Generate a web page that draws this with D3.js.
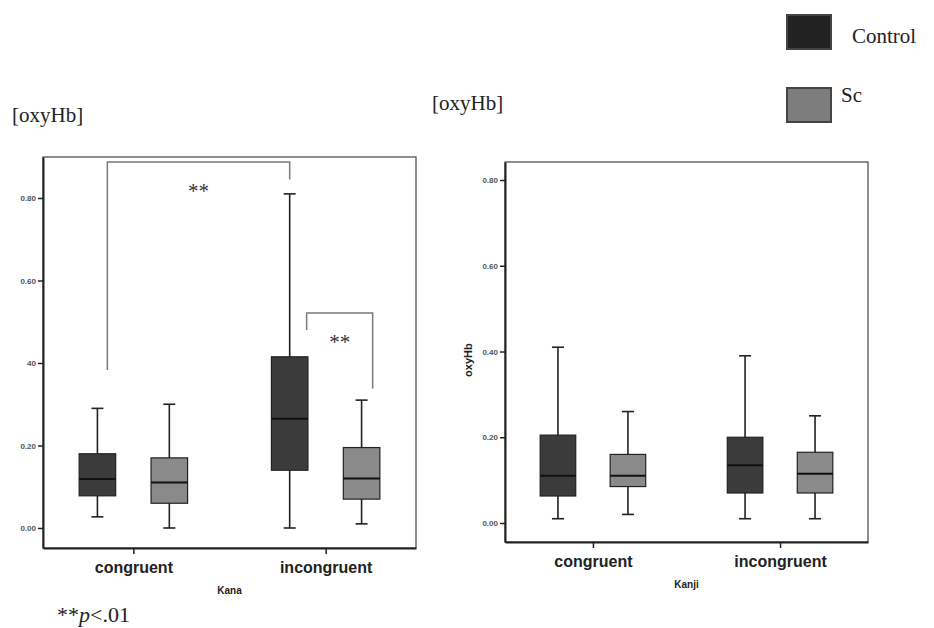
<!DOCTYPE html>
<html>
<head>
<meta charset="utf-8">
<script src="https://cdn.jsdelivr.net/npm/d3@7"></script>
<style>
  body { margin: 0; background: #fff; }
  svg { display: block; }
</style>
</head>
<body>
<div id="chart"></div>
<script>
(function () {
  // ================================================
  // 1. DATA
  // ================================================
  const conditions = ["congruent", "incongruent"];
  const groups = ["Control", "Sc"];
  const yTicks = [0, 0.2, 0.4, 0.6, 0.8];
  const kanaTickLabels = ["0.00", "0.20", "40", "0.60", "0.80"];
  const kanjiTickLabels = ["0.00", "0.20", "0.40", "0.60", "0.80"];

  // [whiskerLow, q1, median, q3, whiskerHigh]
  const kanaControl = [[0.027, 0.078, 0.119, 0.18, 0.29], [0.0, 0.14, 0.265, 0.415, 0.81]];
  const kanaSc = [[0.0, 0.06, 0.11, 0.17, 0.30], [0.01, 0.07, 0.12, 0.195, 0.31]];
  const kanjiControl = [[0.01, 0.063, 0.11, 0.205, 0.41], [0.01, 0.07, 0.135, 0.20, 0.39]];
  const kanjiSc = [[0.02, 0.085, 0.11, 0.16, 0.26], [0.01, 0.07, 0.115, 0.165, 0.25]];

  const colors = { Control: "#3b3b3b", Sc: "#8a8a8a" };

  // ================================================
  // 2. SVG
  // ================================================
  const W = 934, H = 628;
  const svg = d3.select("#chart").append("svg")
    .attr("width", W).attr("height", H);

  const serif = "'Liberation Serif', 'DejaVu Serif', serif";
  const sans = "'Liberation Sans', Arial, sans-serif";

  // ================================================
  // 3. PANEL
  // ================================================
  function panel(opt) {
    const g = svg.append("g");
    const x = d3.scalePoint().domain(conditions)
      .range([opt.left, opt.right]).padding(0.47);
    const y = d3.scaleLinear().domain(opt.yDomain).range([opt.bottom, opt.top]);
    const off = x.step() * 0.187;
    const bw = x.step() * 0.19;

    // frame
    g.append("rect")
      .attr("x", opt.left).attr("y", opt.top)
      .attr("width", opt.right - opt.left).attr("height", opt.bottom - opt.top)
      .attr("fill", "none").attr("stroke", "#444").attr("stroke-width", 1.2);

    // y axis
    const yAxis = g.append("g")
      .attr("transform", `translate(${opt.left},0)`)
      .call(d3.axisLeft(y).tickValues(yTicks).tickSize(5).tickSizeOuter(0).tickPadding(2)
        .tickFormat((d, i) => opt.tickLabels[i]));
    yAxis.select(".domain").attr("stroke", "#222").attr("stroke-width", 2);
    yAxis.selectAll(".tick line").attr("stroke", "#222").attr("stroke-width", 1.5);
    yAxis.selectAll(".tick text")
      .attr("font-family", sans).attr("font-size", 8).attr("font-weight", "bold")
      .attr("fill", "#555");

    // x axis
    const xAxis = g.append("g")
      .attr("transform", `translate(0,${opt.bottom})`)
      .call(d3.axisBottom(x).tickSize(6).tickSizeOuter(0).tickPadding(8));
    xAxis.select(".domain").attr("stroke", "#222").attr("stroke-width", 2);
    xAxis.selectAll(".tick line").attr("stroke", "#222").attr("stroke-width", 1.5);
    xAxis.selectAll(".tick text")
      .attr("font-family", sans).attr("font-size", 16).attr("font-weight", "bold")
      .attr("fill", "#222");

    // axis titles
    g.append("text")
      .attr("x", x("congruent") + x.step() / 2).attr("y", opt.bottom + 46)
      .attr("text-anchor", "middle")
      .attr("font-family", sans).attr("font-size", 10).attr("font-weight", "bold")
      .attr("fill", "#222")
      .text(opt.xTitle);

    if (opt.yTitle) {
      g.append("text")
        .attr("transform", `translate(${opt.left - 33},${y(0.38)}) rotate(-90)`)
        .attr("text-anchor", "middle")
        .attr("font-family", sans).attr("font-size", 11).attr("font-weight", "bold")
        .attr("fill", "#222")
        .text(opt.yTitle);
    }

    // boxes
    groups.forEach((grp, gi) => {
      const series = opt.data[grp];
      conditions.forEach((c, ci) => {
        const v = series[ci];
        const cx = x(c) + (gi === 0 ? -off : off);
        const b = g.append("g");
        b.append("line")
          .attr("x1", cx).attr("x2", cx)
          .attr("y1", y(v[0])).attr("y2", y(v[4]))
          .attr("stroke", "#222").attr("stroke-width", 1.6);
        [v[0], v[4]].forEach(w => {
          b.append("line")
            .attr("x1", cx - 6).attr("x2", cx + 6)
            .attr("y1", y(w)).attr("y2", y(w))
            .attr("stroke", "#222").attr("stroke-width", 1.6);
        });
        b.append("rect")
          .attr("x", cx - bw / 2).attr("width", bw)
          .attr("y", y(v[3])).attr("height", y(v[1]) - y(v[3]))
          .attr("fill", colors[grp]).attr("stroke", "#222").attr("stroke-width", 1.2);
        b.append("line")
          .attr("x1", cx - bw / 2).attr("x2", cx + bw / 2)
          .attr("y1", y(v[2])).attr("y2", y(v[2]))
          .attr("stroke", "#111").attr("stroke-width", 2);
      });
    });

    return { x, y, off };
  }

  const kana = panel({
    left: 43, right: 416, top: 157, bottom: 548,
    yDomain: [-0.0485, 0.8994],
    tickLabels: kanaTickLabels,
    xTitle: "Kana",
    data: { Control: kanaControl, Sc: kanaSc }
  });

  panel({
    left: 505, right: 868, top: 162, bottom: 542,
    yDomain: [-0.0443, 0.842],
    tickLabels: kanjiTickLabels,
    xTitle: "Kanji",
    yTitle: "oxyHb",
    data: { Control: kanjiControl, Sc: kanjiSc }
  });

  // ================================================
  // 4. SIGNIFICANCE BRACKETS
  // ================================================
  const kx = kana.x, ky = kana.y;
  const brackets = [
    { x1: kx("congruent") - 26, x2: kx("incongruent") - kana.off, top: 0.887, low1: 0.383, low2: 0.845 },
    { x1: kx("incongruent") - 19, x2: kx("incongruent") + 47, top: 0.521, low1: 0.48, low2: 0.338 }
  ];
  brackets.forEach(br => {
    svg.append("path")
      .attr("d", `M${br.x1},${ky(br.low1)}V${ky(br.top)}H${br.x2}V${ky(br.low2)}`)
      .attr("fill", "none").attr("stroke", "#7a7a7a").attr("stroke-width", 1.5);
    svg.append("text")
      .attr("x", (br.x1 + br.x2) / 2).attr("y", ky(br.top) + 36)
      .attr("text-anchor", "middle")
      .attr("font-family", serif).attr("font-size", 21).attr("fill", "#333")
      .text("**");
  });

  // ================================================
  // 5. LABELS & LEGEND
  // ================================================
  svg.append("text")
    .attr("x", 12).attr("y", 122)
    .attr("font-family", serif).attr("font-size", 21).attr("fill", "#222")
    .text("[oxyHb]");
  svg.append("text")
    .attr("x", 432).attr("y", 110)
    .attr("font-family", serif).attr("font-size", 21).attr("fill", "#222")
    .text("[oxyHb]");

  const note = svg.append("text")
    .attr("x", 57).attr("y", 622)
    .attr("font-family", serif).attr("font-size", 22).attr("fill", "#222");
  note.append("tspan").text("**");
  note.append("tspan").attr("font-style", "italic").text("p");
  note.append("tspan").text("<.01");

  const legend = [
    { name: "Control", y: 15, tx: 852, ty: 43 },
    { name: "Sc", y: 88, tx: 841, ty: 102 }
  ];
  legend.forEach(l => {
    svg.append("rect")
      .attr("x", 787).attr("y", l.y).attr("width", 44).attr("height", 34)
      .attr("fill", l.name === "Control" ? "#222" : "#7d7d7d")
      .attr("stroke", "#444").attr("stroke-width", 2);
    svg.append("text")
      .attr("x", l.tx).attr("y", l.ty)
      .attr("font-family", serif).attr("font-size", 21).attr("fill", "#222")
      .text(l.name);
  });
})();
</script>
</body>
</html>
